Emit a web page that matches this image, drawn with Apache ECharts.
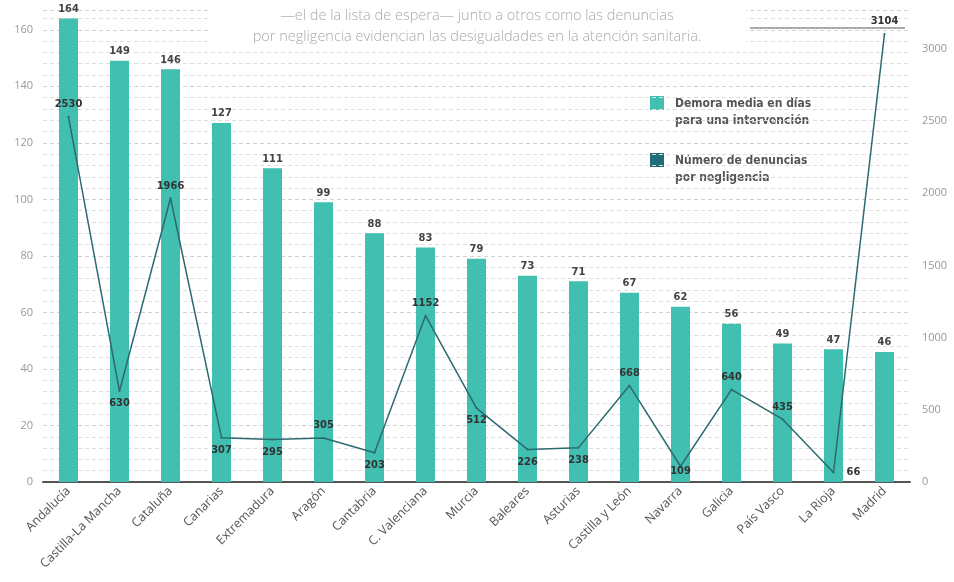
<!DOCTYPE html>
<html>
<head>
<meta charset="utf-8">
<script src="https://cdn.jsdelivr.net/npm/echarts@6/dist/echarts.min.js"></script>
<style>html,body{margin:0;padding:0;background:#fff}#c{width:954px;height:582px}</style>
</head>
<body>
<div id="c"></div>
<script>
var categories = ['Andalucía','Castilla-La Mancha','Cataluña','Canarias','Extremadura','Aragón','Cantabria','C. Valenciana','Murcia','Baleares','Asturias','Castilla y León','Navarra','Galicia','País Vasco','La Rioja','Madrid'];
var demora = [164,149,146,127,111,99,88,83,79,73,71,67,62,56,49,47,46];
var denuncias = [2530,630,1966,307,295,305,203,1152,512,226,238,668,109,640,435,66,3104];
var leftTicks = [0,20,40,60,80,100,120,140,160];
var rightTicks = [0,500,1000,1500,2000,2500,3000];
var lineLabelPos = ['top','bottom','top','bottom','bottom','top','bottom','top','bottom','bottom','bottom','top','inside','top','top','right','top'];

var narrow = "'Liberation Sans Narrow','DejaVu Sans Condensed',sans-serif";
var chart = echarts.init(document.getElementById('c'), null, {renderer:'canvas'});
chart.setOption({
  animation:false,
  backgroundColor:'#fff',
  grid:{left:43,right:44,top:10,bottom:100},
  xAxis:{type:'category',data:categories,
    axisLine:{lineStyle:{color:'#555',width:2}},
    axisTick:{show:false},
    axisLabel:{rotate:45,interval:0,color:'#555',fontSize:12.5,margin:7,fontFamily:"'Open Sans',sans-serif"}},
  yAxis:[
    {type:'value',min:0,max:167,interval:20,
     axisLine:{show:false},axisTick:{show:false},
     axisLabel:{color:'#999',fontSize:11,margin:10,fontFamily:"'Open Sans',sans-serif",
       formatter:function(v){return leftTicks.indexOf(v)>=0?String(v):'';}},
     splitLine:{show:true,lineStyle:{color:'#d2d2d2',type:[4,3],width:1}},
     minorTick:{show:false,splitNumber:5},
     minorSplitLine:{show:true,lineStyle:{color:'#dedede',type:[4,3],width:1}}},
    {type:'value',min:0,max:3270,interval:500,position:'right',
     axisLine:{show:false},axisTick:{show:false},splitLine:{show:false},
     axisLabel:{color:'#999',fontSize:11,margin:12,fontFamily:"'Open Sans',sans-serif",
       formatter:function(v){return rightTicks.indexOf(v)>=0?String(v):'';}}}
  ],
  series:[
    {type:'bar',data:demora,barWidth:19,itemStyle:{color:'#41bfb1'},
     label:{show:true,position:'top',distance:4,color:'#444',fontSize:11,fontWeight:'bold',fontFamily:narrow},z:2},
    {type:'line',yAxisIndex:1,z:3,
     data:denuncias.map(function(v,i){
       var p = lineLabelPos[i];
       var lab = {position:p};
       if(p==='inside'){lab.offset=[0,5];}
       if(p==='right'){lab.distance=12;}
       return {value:v,label:lab};}),
     symbol:'circle',symbolSize:2,itemStyle:{color:'#2c6a70'},
     lineStyle:{color:'#2c6a70',width:1.5},
     label:{show:true,color:'#333',fontSize:11,fontWeight:'bold',fontFamily:narrow,distance:6}}
  ],
  graphic:[
    {type:'rect',z:1,shape:{x:208,y:0,width:538,height:46},style:{fill:'#fff'}},
    {type:'text',z:2,left:'center',top:8,style:{text:'—el de la lista de espera— junto a otros como las denuncias',fill:'#aaa',font:"300 14.5px 'Open Sans',sans-serif"}},
    {type:'text',z:2,left:'center',top:29,style:{text:'por negligencia evidencian las desigualdades en la atención sanitaria.',fill:'#aaa',font:"300 14.5px 'Open Sans',sans-serif"}},
    {type:'rect',shape:{x:750,y:27,width:155,height:2},style:{fill:'#aaa'}},
    {type:'rect',shape:{x:650,y:96,width:14,height:14},style:{fill:'#41bfb1'}},
    {type:'rect',shape:{x:650,y:153,width:14,height:14},style:{fill:'#1f6e78'}},
    {type:'text',x:675,y:95,style:{text:'Demora media en días\npara una intervención',fill:'#555',font:"bold 12px "+narrow,lineHeight:17}},
    {type:'text',x:675,y:152,style:{text:'Número de denuncias\npor negligencia',fill:'#555',font:"bold 12px "+narrow,lineHeight:17}}
  ]
});
</script>
</body>
</html>
